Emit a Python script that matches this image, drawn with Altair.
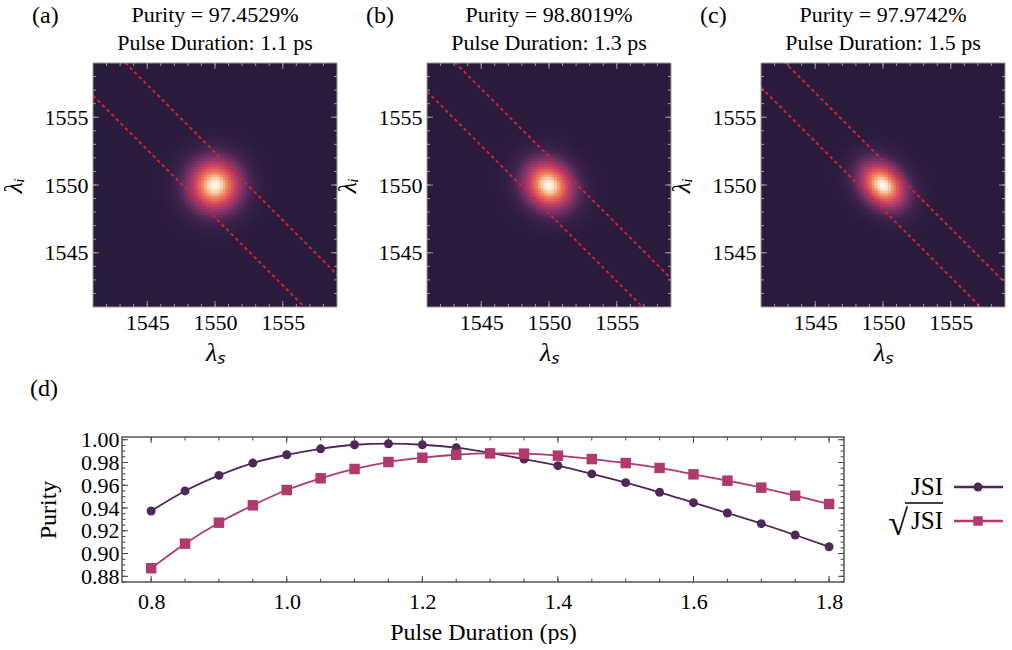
import numpy as np
import pandas as pd
import altair as alt

FONT = "Liberation Serif"

# ---------------- data: purity vs pulse duration ----------------
durations = [0.80, 0.85, 0.90, 0.95, 1.00, 1.05, 1.10, 1.15, 1.20, 1.25, 1.30,
             1.35, 1.40, 1.45, 1.50, 1.55, 1.60, 1.65, 1.70, 1.75, 1.80]
purity_jsi = [0.9374, 0.9550, 0.9687, 0.9795, 0.9868, 0.9920, 0.9956, 0.9965, 0.9956, 0.9930, 0.9885,
              0.9830, 0.9772, 0.9700, 0.9623, 0.9538, 0.9447, 0.9356, 0.9263, 0.9163, 0.9060]
purity_sqrt = [0.8871, 0.9087, 0.9271, 0.9424, 0.9558, 0.9661, 0.9743, 0.9804, 0.9842, 0.9868, 0.9880,
               0.9878, 0.9860, 0.9830, 0.9795, 0.9752, 0.9696, 0.9640, 0.9579, 0.9508, 0.9435]
series_names = ["JSI", "√JSI"]
series_colors = ["#4f2858", "#b03a6e"]

# ---------------- data: JSI panels ----------------
panel_tags = ["(a)", "(b)", "(c)"]
panel_purity = ["97.4529%", "98.8019%", "97.9742%"]
panel_duration = ["1.1", "1.3", "1.5"]
pump_halfwidth = [2.4, 2.1, 1.8]      # half distance between dashed lines (in λs+λi, nm)
pump_sigma = [1.42, 1.24, 1.06]       # Gaussian width of pump envelope (in λs+λi, nm)
pm_sigma = [1.42, 1.42, 1.42]         # Gaussian width of phase matching (in λs-λi, nm)
center_sum = 3100.0
lam_domain = [1541, 1559]
lam_major = [1545, 1550, 1555]
lam_minor = list(range(1542, 1559))
cell = 0.2

heat_domain = [0, 0.14, 0.4, 0.62, 0.82, 0.95, 1.0]
heat_range = ["#2a1b3c", "#43244f", "#8f3768", "#d4485e", "#f2865e", "#fcd9bd", "#fff6ee"]
bg_color = "#2a1b3c"

PW, PH = 244, 244
BX0, BW, BH = 29, 722, 145

one = pd.DataFrame({"k": [0]})


def text_at(txt, x, y, size, align="left", baseline="middle", style="normal"):
    return alt.Chart(one).mark_text(align=align, baseline=baseline, fontSize=size, font=FONT,
                                    fontStyle=style, color="black").encode(
        x=alt.value(x), y=alt.value(y), text=alt.value(txt))


def tick_layers(xsc, ysc, xax, yax, xmaj, xmin, ymaj, ymin, X0, X1, H, Lmaj, Lmin, color):
    layers = []
    for vals, L in [(xmaj, Lmaj), (xmin, Lmin)]:
        d = pd.DataFrame({"v": vals})
        b = alt.Chart(d).mark_rule(color=color, strokeWidth=1)
        layers.append(b.encode(x=alt.X("v:Q", scale=xsc, axis=xax), y=alt.value(H), y2=alt.value(H - L)))
        layers.append(b.encode(x=alt.X("v:Q", scale=xsc, axis=xax), y=alt.value(0), y2=alt.value(L)))
    for vals, L in [(ymaj, Lmaj), (ymin, Lmin)]:
        d = pd.DataFrame({"v": vals})
        b = alt.Chart(d).mark_rule(color=color, strokeWidth=1)
        layers.append(b.encode(y=alt.Y("v:Q", scale=ysc, axis=yax), x=alt.value(X0), x2=alt.value(X0 + L)))
        layers.append(b.encode(y=alt.Y("v:Q", scale=ysc, axis=yax), x=alt.value(X1), x2=alt.value(X1 - L)))
    return layers


top_xaxis = alt.Axis(values=lam_major, format="d", ticks=False, domain=False, grid=False,
                     labelFontSize=22, labelPadding=5, labelColor="black", labelFont=FONT,
                     title="λₛ", titleFontSize=26, titleFontStyle="italic", titleFont=FONT,
                     titleFontWeight="normal", titlePadding=6, titleColor="black")
top_yaxis = alt.Axis(values=lam_major, format="d", ticks=False, domain=False, grid=False,
                     labelFontSize=22, labelPadding=5, labelColor="black", labelFont=FONT,
                     title="λᵢ", titleFontSize=26, titleFontStyle="italic", titleFont=FONT,
                     titleFontWeight="normal", titlePadding=18, titleColor="black")


def jsi_panel(i):
    centers = np.arange(lam_domain[0] + cell / 2, lam_domain[1], cell)
    LS, LI = np.meshgrid(centers, centers)
    S = LS + LI - center_sum
    D = LS - LI
    amp = np.exp(-S ** 2 / (4 * pump_sigma[i] ** 2) - D ** 2 / (4 * pm_sigma[i] ** 2))
    m = amp > 0.012
    ov = 0.02
    df = pd.DataFrame({
        "x0": LS[m] - cell / 2 - ov, "x1": LS[m] + cell / 2 + ov,
        "y0": LI[m] - cell / 2 - ov, "y1": LI[m] + cell / 2 + ov,
        "amp": amp[m],
    })
    xsc = alt.Scale(domain=lam_domain, nice=False, zero=False)
    ysc = alt.Scale(domain=lam_domain, nice=False, zero=False)

    bg = alt.Chart(one).mark_rect(color=bg_color).encode(
        x=alt.value(0), x2=alt.value(PW), y=alt.value(0), y2=alt.value(PH))

    heat = alt.Chart(df).mark_rect(strokeWidth=0).encode(
        x=alt.X("x0:Q", scale=xsc, axis=top_xaxis),
        x2="x1:Q",
        y=alt.Y("y0:Q", scale=ysc, axis=top_yaxis),
        y2="y1:Q",
        color=alt.Color("amp:Q", scale=alt.Scale(domain=heat_domain, range=heat_range), legend=None),
    )

    rows = []
    for sgn in (-1, 1):
        s = center_sum + sgn * pump_halfwidth[i]
        rows.append({"ls": lam_domain[0], "li": s - lam_domain[0], "g": sgn})
        rows.append({"ls": lam_domain[1], "li": s - lam_domain[1], "g": sgn})
    ldf = pd.DataFrame(rows)
    dashed = alt.Chart(ldf).mark_line(color="#c8243a", strokeWidth=2, strokeDash=[3.5, 3], clip=True).encode(
        x=alt.X("ls:Q", scale=xsc, axis=top_xaxis),
        y=alt.Y("li:Q", scale=ysc, axis=top_yaxis),
        detail="g:N",
    )

    ticks = tick_layers(xsc, ysc, top_xaxis, top_yaxis, lam_major, lam_minor, lam_major, lam_minor,
                        0, PW, PH, 6, 3, "#9a9a9a")

    frame = alt.Chart(one).mark_rect(fillOpacity=0, stroke="#9a9a9a", strokeWidth=1).encode(
        x=alt.value(0), x2=alt.value(PW), y=alt.value(0), y2=alt.value(PH))

    tag = text_at(panel_tags[i], -61, -47, 24)
    t1 = text_at(f"Purity = {panel_purity[i]}", PW / 2, -48, 22, align="center")
    t2 = text_at(f"Pulse Duration: {panel_duration[i]} ps", PW / 2, -20, 22, align="center")

    # invisible layout guide that fixes the panel's outer extent
    guide = alt.Chart(one).mark_rule(opacity=0).encode(
        x=alt.value(-90), y=alt.value(-63), y2=alt.value(PH + 62))

    return alt.layer(bg, heat, dashed, *ticks, frame, tag, t1, t2, guide).properties(
        width=PW, height=PH)


top = alt.hconcat(*[jsi_panel(i) for i in range(3)], spacing=-4)

# ---------------- bottom line chart ----------------
long_df = pd.DataFrame({
    "d": durations * 2,
    "p": purity_jsi + purity_sqrt,
    "s": [series_names[0]] * len(durations) + [series_names[1]] * len(durations),
})
BX1 = BX0 + BW
bx = alt.Scale(domain=[0.757, 1.822], nice=False, zero=False, range=[BX0, BX1])
by = alt.Scale(domain=[0.875, 1.0024], nice=False, zero=False)
cscale = alt.Scale(domain=series_names, range=series_colors)

x_major = [0.8, 1.0, 1.2, 1.4, 1.6, 1.8]
x_minor = [round(0.8 + 0.05 * k, 3) for k in range(21)]
y_major = [round(0.88 + 0.02 * k, 3) for k in range(7)]
y_minor = [round(0.875 + 0.005 * k, 3) for k in range(26)]

bxa = alt.Axis(values=x_major, format=".1f", ticks=False, domain=False, grid=False,
               labelFontSize=22, labelPadding=9, labelColor="black", labelFont=FONT,
               title="Pulse Duration (ps)", titleFontSize=24, titleFontWeight="normal", titleFont=FONT,
               titlePadding=8, titleColor="black", titleX=BX0 + BW / 2)
bya = alt.Axis(values=y_major, format=".2f", ticks=False, domain=False, grid=False, offset=-BX0,
               labelFontSize=22, labelPadding=3, labelColor="black", labelFont=FONT,
               title="Purity", titleFontSize=24, titleFontWeight="normal", titleFont=FONT,
               titlePadding=20, titleColor="black")

lines = alt.Chart(long_df).mark_line(strokeWidth=1.8, interpolate="monotone").encode(
    x=alt.X("d:Q", scale=bx, axis=bxa),
    y=alt.Y("p:Q", scale=by, axis=bya),
    color=alt.Color("s:N", scale=cscale, legend=None),
    detail="s:N",
)
points = alt.Chart(long_df).mark_point(filled=True, opacity=1).encode(
    x=alt.X("d:Q", scale=bx, axis=bxa),
    y=alt.Y("p:Q", scale=by, axis=bya),
    color=alt.Color("s:N", scale=cscale, legend=None),
    shape=alt.Shape("s:N", scale=alt.Scale(domain=series_names, range=["circle", "square"]), legend=None),
    size=alt.Size("s:N", scale=alt.Scale(domain=series_names, range=[80, 110]), legend=None),
)

bticks = tick_layers(bx, by, bxa, bya, x_major, x_minor, y_major, y_minor, BX0, BX1, BH, 6, 3.5, "#444444")
bframe = alt.Chart(one).mark_rect(fillOpacity=0, stroke="#555555", strokeWidth=1.5).encode(
    x=alt.value(BX0), x2=alt.value(BX1), y=alt.value(0), y2=alt.value(BH))
dtag = text_at("(d)", BX0 - 92, -48, 24)
bguide = alt.Chart(one).mark_rule(opacity=0).encode(
    x=alt.value(BX0), y=alt.value(-62), y2=alt.value(0))

# manual legend (labels to the left of the symbols)
leg = []
for k, yy in enumerate([50, 84]):
    leg.append(text_at("JSI", BX0 + 821, yy, 25, align="right"))
    leg.append(alt.Chart(one).mark_rule(color=series_colors[k], strokeWidth=2.5).encode(
        x=alt.value(BX0 + 832), x2=alt.value(BX0 + 881), y=alt.value(yy)))
    leg.append(alt.Chart(one).mark_point(filled=True, opacity=1, color=series_colors[k],
                                         shape=["circle", "square"][k], size=[80, 90][k]).encode(
        x=alt.value(BX0 + 856), y=alt.value(yy)))
leg.append(text_at("√", BX0 + 786, 98, 36, align="right", baseline="alphabetic"))
leg.append(alt.Chart(one).mark_rule(color="black", strokeWidth=1.5).encode(
    x=alt.value(BX0 + 783), x2=alt.value(BX0 + 821), y=alt.value(66)))

bottom = alt.layer(lines, points, *bticks, bframe, dtag, bguide, *leg).properties(
    width=BX0 + BW, height=BH)

chart = alt.vconcat(top, bottom, spacing=6).properties(
    padding={"left": 0, "top": 0, "right": 0, "bottom": 0}
).configure(font=FONT).configure_view(strokeWidth=0).configure_axis(
    labelFont=FONT, titleFont=FONT
).configure_text(font=FONT)

chart.save("out.html", embed_options={"renderer": "svg", "actions": False})
